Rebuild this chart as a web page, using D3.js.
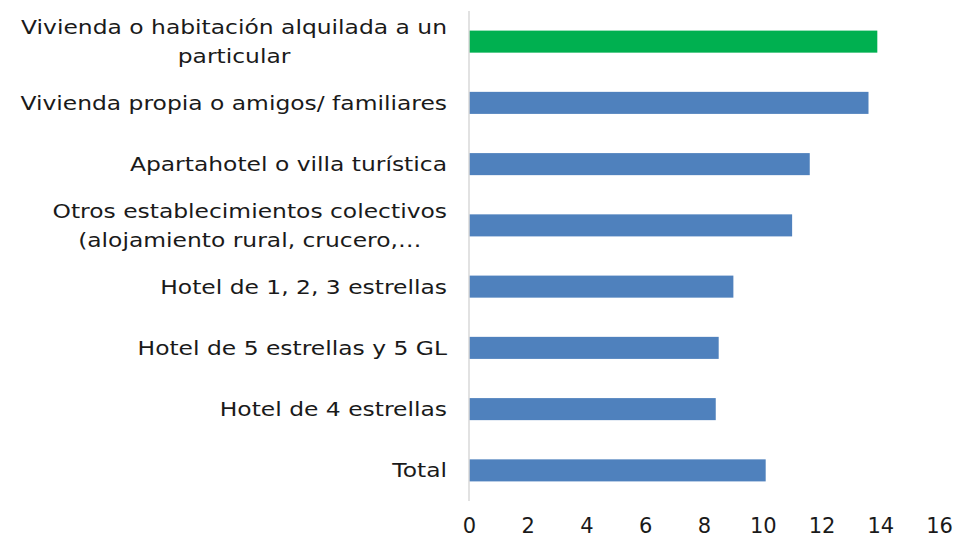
<!DOCTYPE html>
<html><head><meta charset="utf-8">
<script src="https://cdn.jsdelivr.net/npm/d3@7"></script>
<style>body{margin:0;background:#fff}svg{display:block}</style>
</head><body><svg id="c" width="953" height="541"></svg>
<script>
const categories = [
  ["Vivienda o habitación alquilada a un", "particular"],
  ["Vivienda propia o amigos/ familiares"],
  ["Apartahotel o villa turística"],
  ["Otros establecimientos colectivos", "(alojamiento rural, crucero,…"],
  ["Hotel de 1, 2, 3 estrellas"],
  ["Hotel de 5 estrellas y 5 GL"],
  ["Hotel de 4 estrellas"],
  ["Total"]
];
const values = [13.9, 13.6, 11.6, 11.0, 9.0, 8.5, 8.4, 10.1];
const highlight = [true, false, false, false, false, false, false, false];
const xTicks = [0, 2, 4, 6, 8, 10, 12, 14, 16];

const svg = d3.select("#c");
const font = "DejaVu Sans, sans-serif";
const fs = 20;
const stretch = 1.17;
const x = d3.scaleLinear().domain([0, 16]).range([469, 939]);
const y = d3.scaleBand().domain(d3.range(categories.length)).range([11, 501]).paddingInner(0.64).paddingOuter(0.32);

svg.selectAll("rect.bar").data(values).join("rect")
  .attr("class", "bar")
  .attr("x", x(0))
  .attr("y", (d, i) => y(i))
  .attr("width", d => x(d) - x(0))
  .attr("height", y.bandwidth())
  .attr("fill", (d, i) => highlight[i] ? "#00B050" : "#4F81BD");

svg.append("line").attr("x1", x(0)).attr("x2", x(0)).attr("y1", 11).attr("y2", 501)
  .attr("stroke", "#d9d9d9").attr("stroke-width", 1.5);

function widen(t) {
  const w = t.node().getComputedTextLength() * stretch;
  t.attr("textLength", w).attr("lengthAdjust", "spacingAndGlyphs");
  return w;
}

// category labels
const lab = svg.append("g");
categories.forEach((lines, i) => {
  const cy = y(i) + y.bandwidth() / 2;
  if (lines.length === 1) {
    const t = lab.append("text").attr("x", 447).attr("y", cy).attr("dy", "0.35em")
      .attr("text-anchor", "end").attr("font-family", font).attr("font-size", fs)
      .attr("fill", "#1a1a1a").text(lines[0]);
    widen(t);
  } else {
    const g = lab.append("g");
    const ts = lines.map((t, k) => g.append("text")
      .attr("y", cy + (k - 0.5) * 29).attr("dy", "0.35em")
      .attr("text-anchor", "middle").attr("font-family", font).attr("font-size", fs)
      .attr("fill", "#1a1a1a").text(t));
    const w = d3.max(ts.map(widen));
    ts.forEach(t => t.attr("x", 447 - w / 2));
  }
});

const ax = d3.axisBottom(x).tickValues(xTicks).tickSize(0).tickPadding(0);
const axg = svg.append("g").attr("transform", "translate(0,518)").call(ax);
axg.select(".domain").remove();
axg.selectAll("text").attr("font-family", font).attr("font-size", 21).attr("fill", "#1a1a1a").attr("dy", "0.71em");
</script></body></html>
